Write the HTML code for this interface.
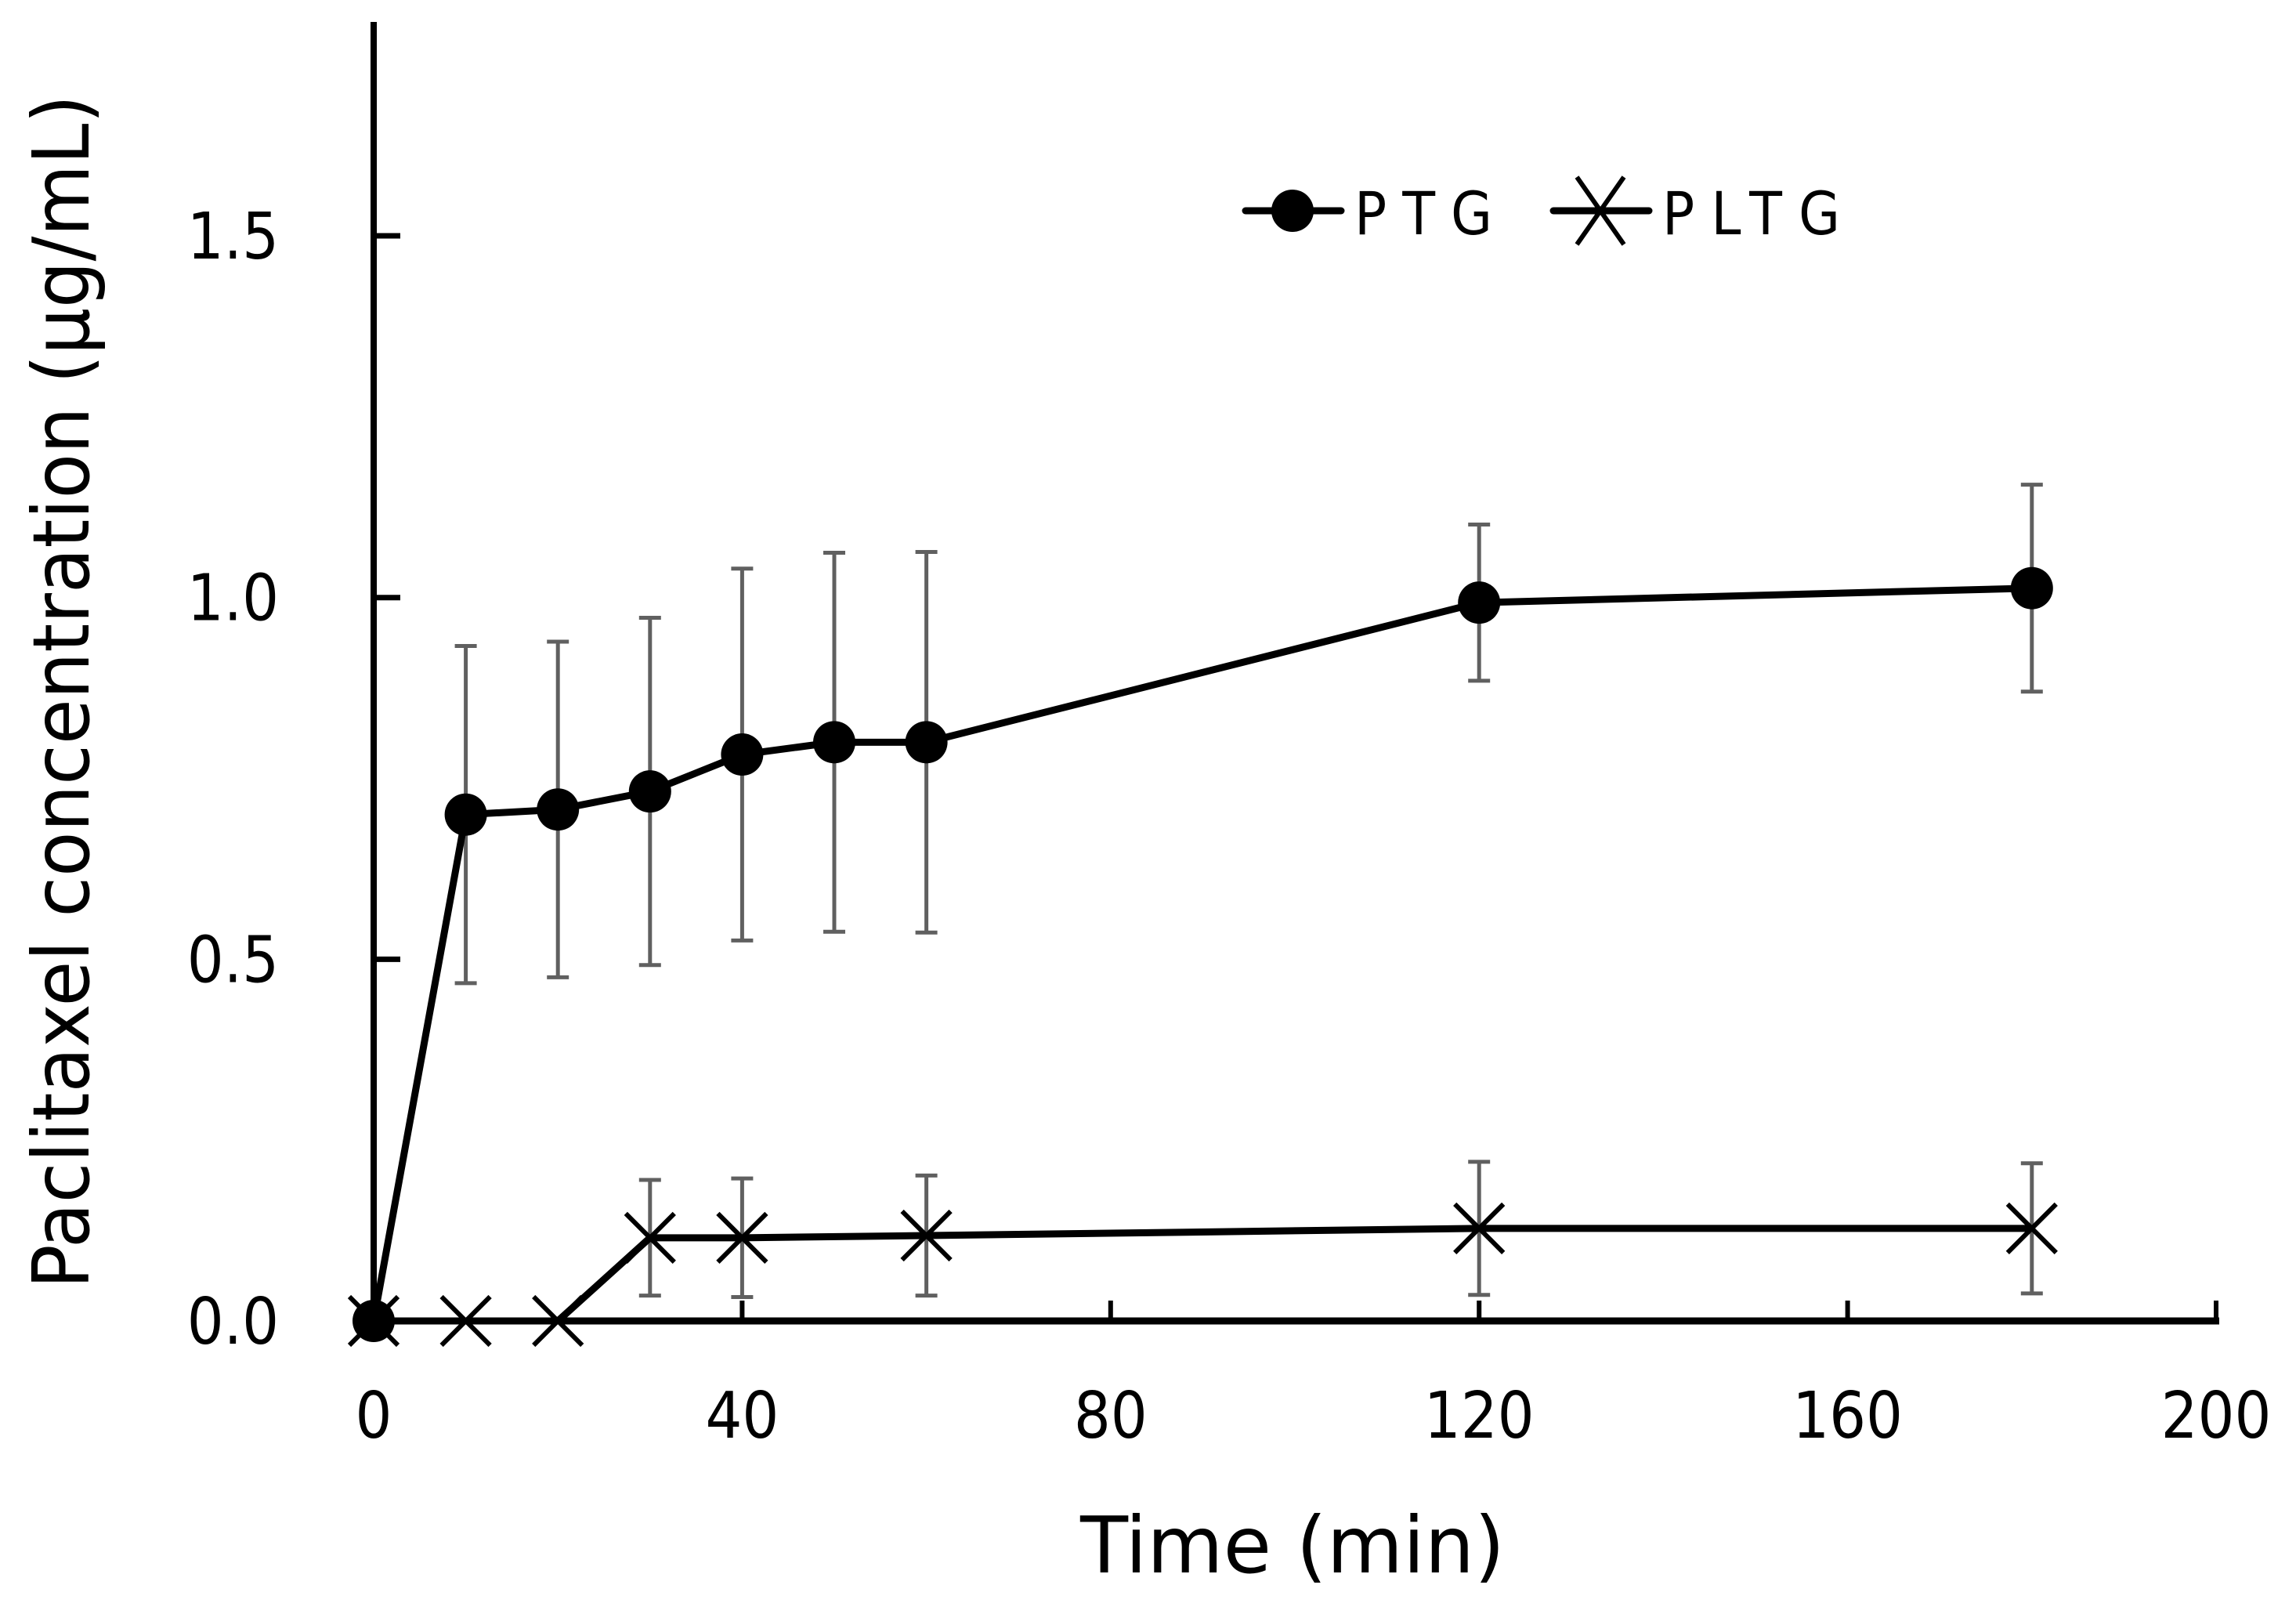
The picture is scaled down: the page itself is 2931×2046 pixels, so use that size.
<!DOCTYPE html>
<html><head><meta charset="utf-8"><style>
html,body{margin:0;padding:0;background:#fff;}
svg{display:block;font-family:"DejaVu Sans Condensed","Liberation Sans",sans-serif;}
</style></head><body>
<svg id="chart" width="2931" height="2046" viewBox="0 0 2931 2046" xmlns="http://www.w3.org/2000/svg">
<g id="errs"></g>
<g id="lines"></g>
<g id="marks"></g>
<g id="axes"></g>
<text x="1650" y="2007" font-size="100" text-anchor="middle" textLength="542" lengthAdjust="spacingAndGlyphs">Time (min)</text>
<text transform="translate(113,883) rotate(-90)" font-size="100" text-anchor="middle" textLength="1524" lengthAdjust="spacingAndGlyphs">Paclitaxel concentration (μg/mL)</text>
<g>
<line x1="1590" y1="269" x2="1712" y2="269" stroke="#000" stroke-width="9" stroke-linecap="round"/>
<circle cx="1650" cy="269" r="27"/>
<text x="1729" y="299" font-size="76" textLength="176" lengthAdjust="spacing">PTG</text>
<line x1="1983" y1="269" x2="2105" y2="269" stroke="#000" stroke-width="9" stroke-linecap="round"/>
<path d="M2013 226 L2073 312 M2073 226 L2013 312" stroke="#000" stroke-width="6" fill="none"/>
<text x="2122" y="299" font-size="76" textLength="227" lengthAdjust="spacing">PLTG</text>
</g>
</svg>
<script>
const times=[0,10,20,30,40,50,60,120,180];
const ptgValues=[0,0.700,0.707,0.732,0.783,0.800,0.800,0.993,1.013];
const ptgErrors=[0,0.233,0.232,0.240,0.257,0.262,0.263,0.108,0.143];
const pltgTimes=[0,10,20,30,40,60,120,180];
const pltgValues=[0,0,0,0.115,0.115,0.118,0.128,0.128];
const pltgErrors=[0,0,0,0.08,0.082,0.083,0.092,0.09];
const xTicks=[0,40,80,120,160,200];
const yTicks=[0,0.5,1.0,1.5];
const yTickLabels=["0.0","0.5","1.0","1.5"];

const NS="http://www.w3.org/2000/svg";
const X0=477,X1=2829,Y0=1686,YU=923.3;
function xs(t){return X0+(X1-X0)*t/200;}
function ys(v){return Y0-v*YU;}
function mk(tag,attrs,parent){const e=document.createElementNS(NS,tag);for(const k in attrs)e.setAttribute(k,attrs[k]);parent.appendChild(e);return e;}
const axes=document.getElementById('axes'),errs=document.getElementById('errs'),lines=document.getElementById('lines'),marks=document.getElementById('marks');

let e;
e=mk('line',{x1:X0,y1:28,x2:X0,y2:Y0+4,stroke:'#000','stroke-width':8},axes);


e=mk('line',{x1:X0-4,y1:Y0,x2:X1+4,y2:Y0,stroke:'#000','stroke-width':9},axes);


xTicks.forEach(t=>{
  const tk=mk('line',{x1:xs(t),y1:Y0,x2:xs(t),y2:Y0-26,stroke:'#000','stroke-width':6},axes);
  
  
  const tl=mk('text',{x:xs(t),y:1835,'font-size':82,'text-anchor':'middle'},axes);
  tl.textContent=String(t);
  
  
});
yTicks.forEach((v,i)=>{
  if(v>0){
    const tk=mk('line',{x1:X0,y1:ys(v),x2:X0+34,y2:ys(v),stroke:'#000','stroke-width':7},axes);
    
    
  }
  const tl=mk('text',{x:356,y:ys(v)+29,'font-size':82,'text-anchor':'end'},axes);
  tl.textContent=yTickLabels[i];
  
  
});
function errBar(t,v,er){
  if(er<=0)return;
  const g=mk('g',{stroke:'#606060','stroke-width':5},errs);
  
  
  const x=xs(t),a=ys(v+er),b=ys(v-er);
  mk('line',{x1:x,y1:a,x2:x,y2:b},g);
  mk('line',{x1:x-14,y1:a,x2:x+14,y2:a},g);
  mk('line',{x1:x-14,y1:b,x2:x+14,y2:b},g);
}
times.forEach((t,i)=>errBar(t,ptgValues[i],ptgErrors[i]));
pltgTimes.forEach((t,i)=>errBar(t,pltgValues[i],pltgErrors[i]));
e=mk('polyline',{points:pltgTimes.map((t,i)=>xs(t)+','+ys(pltgValues[i])).join(' '),fill:'none',stroke:'#000','stroke-width':9,'stroke-linejoin':'round'},lines);


e=mk('polyline',{points:times.map((t,i)=>xs(t)+','+ys(ptgValues[i])).join(' '),fill:'none',stroke:'#000','stroke-width':9,'stroke-linejoin':'round'},lines);


pltgTimes.forEach((t,i)=>{
  const x=xs(t),y=ys(pltgValues[i]);
  const p=mk('path',{d:`M${x-31} ${y-31} L${x+31} ${y+31} M${x+31} ${y-31} L${x-31} ${y+31}`,stroke:'#000','stroke-width':6,fill:'none'},marks);
  
  
});
times.forEach((t,i)=>{
  const c=mk('circle',{cx:xs(t),cy:ys(ptgValues[i]),r:27,fill:'#000'},marks);
  
  
});
</script>
</body></html>
